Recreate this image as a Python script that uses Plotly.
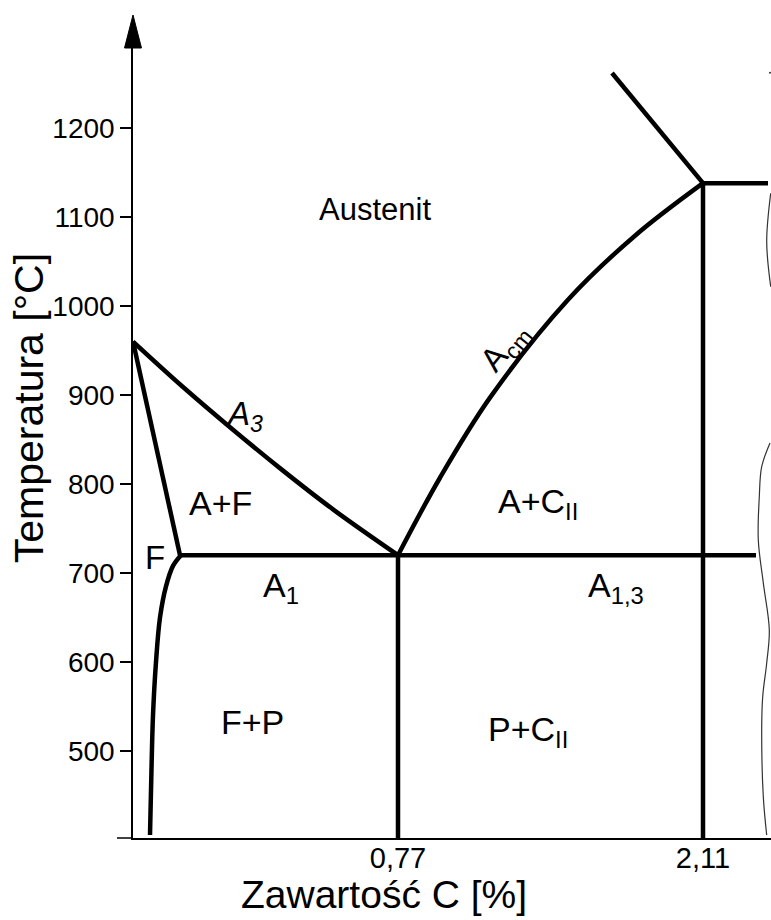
import plotly.graph_objects as go

# ---- data (x: schematic diagram units along the carbon axis, y: temperature in deg C) ----
Y_MIN = 402.2
Y_MAX = 1289.9
X_MAX = 638

# A3 line (austenite / austenite+ferrite)
a3_x = [0, 50, 100, 150, 200, 265]
a3_t = [960, 909, 861, 815, 771.5, 720]

# ferrite boundary (A4 -> F point)
fb_x = [0, 47]
fb_t = [960, 720]

# solvus of ferrite (F point down)
sv_x = [48, 40, 33, 27, 23, 20, 18.5, 17]
sv_t = [720, 708, 685, 650, 600, 540, 480, 405.6]

# Acm line
acm_x = [265, 307, 357, 435, 502, 570]
acm_t = [720, 807, 897, 1007, 1079, 1138]

# upper line to E point
up_x = [479, 570]
up_t = [1261.8, 1138]

# eutectic horizontal (1138) and eutectoid horizontal A1 (720)
e_x = [570, 635]
e_t = [1138, 1138]
a1_x = [47, 623]
a1_t = [720, 720]

# vertical lines at 0,77 and 2,11
v077_x = [265, 265]
v077_t = [720, Y_MIN]
v211_x = [570, 570]
v211_t = [1138, Y_MIN]

# wavy break line at the right edge
w1_x = [637.7, 633.7, 637.7]
w1_t = [1126.6, 1072.2, 1021.7]
w2_x = [637, 628.7, 626.3, 625.3, 630.3, 636.3, 633.7, 629.7, 628.7, 630.3, 633.7]
w2_t = [846.1, 819.4, 785.7, 737.1, 688.8, 635.9, 598.9, 561.0, 523.6, 448.7, 405.6]
dot_x = [637]
dot_t = [1262]

# ticks
x_tickvals = [265, 570]
x_ticktext = ["0,77", "2,11"]
y_tickvals = [500, 600, 700, 800, 900, 1000, 1100, 1200]

# region labels: (x, t, text, angle, size)
labels = [
    (242, 1108, "Austenit", 0, 31),
    (87, 779, "A+F", 0, 34),
    (22, 717, "F", 0, 33),
    (148, 684, "A<sub>1</sub>", 0, 34),
    (119, 532, "F+P", 0, 34),
    (405, 778, "A+C<sub>II</sub>", 0, 34),
    (395, 522, "P+C<sub>II</sub>", 0, 34),
    (483, 684, "A<sub>1,3</sub>", 0, 34),
    (111, 876, "<i>A<sub>3</sub></i>", 0, 33),
    (372, 953, "A<sub>cm</sub>", -51, 33),
]

FONT = "Liberation Sans, Arial, sans-serif"
LW = 4.5

fig = go.Figure()

def line(x, y, shape="linear", width=LW, color="black"):
    fig.add_trace(go.Scatter(x=x, y=y, mode="lines", line=dict(color=color, width=width, shape=shape),
                             cliponaxis=False, hoverinfo="skip", showlegend=False))

line(a3_x, a3_t, "spline")
line(fb_x, fb_t)
line(sv_x, sv_t, "spline")
line(acm_x, acm_t, "spline")
line(up_x, up_t)
line(e_x, e_t)
line(a1_x, a1_t)
line(v077_x, v077_t)
line(v211_x, v211_t)
line(w1_x, w1_t, "spline", 1.2, "#333")
line(w2_x, w2_t, "spline", 1.2, "#333")
fig.add_trace(go.Scatter(x=dot_x, y=dot_t, mode="markers", marker=dict(color="#333", size=2),
                         cliponaxis=False, hoverinfo="skip", showlegend=False))

for x, t, txt, ang, sz in labels:
    fig.add_annotation(x=x, y=t, text=txt, showarrow=False, textangle=ang,
                       font=dict(family=FONT, size=sz, color="black"))

# axis titles
fig.add_annotation(xref="paper", yref="paper", x=-0.163, y=0.544, xanchor="center", yanchor="middle",
                   text="Temperatura [°C]", textangle=-90, showarrow=False,
                   font=dict(family=FONT, size=41, color="black"))
fig.add_annotation(xref="paper", yref="paper", x=0.3934, y=-0.0715, xanchor="center", yanchor="middle",
                   text="Zawartość C [%]", showarrow=False,
                   font=dict(family=FONT, size=39, color="black"))

# arrow head on temperature axis and left extension of the base line
fig.add_shape(type="path", xref="paper", yref="paper",
              path="M -0.0133 1 L 0 1.0418 L 0.0133 1 Z", fillcolor="black", line=dict(color="black", width=1))
fig.add_shape(type="line", xref="paper", yref="paper", x0=-0.0251, x1=0, y0=0, y1=0,
              line=dict(color="black", width=1.5))

fig.update_layout(
    width=771, height=920,
    margin=dict(l=133, r=0, t=48, b=82),
    paper_bgcolor="white", plot_bgcolor="white",
    font=dict(family=FONT, color="black"),
    showlegend=False,
    xaxis=dict(range=[0, X_MAX], showgrid=False, zeroline=False, showline=True, linecolor="black",
               linewidth=1.5, tickvals=x_tickvals, ticktext=x_ticktext, ticks="",
               ticklabelstandoff=-7,
               tickfont=dict(family=FONT, size=29, color="black")),
    yaxis=dict(range=[Y_MIN, Y_MAX], showgrid=False, zeroline=False, showline=True, linecolor="black",
               linewidth=1.5, tickvals=y_tickvals, ticks="outside", ticklen=11, tickwidth=1.5,
               tickcolor="black", tickfont=dict(family=FONT, size=28, color="black")),
)

fig.write_html("out.html", config={"displayModeBar": False},
               post_script="document.body.style.margin='0';document.body.style.overflow='hidden';")
